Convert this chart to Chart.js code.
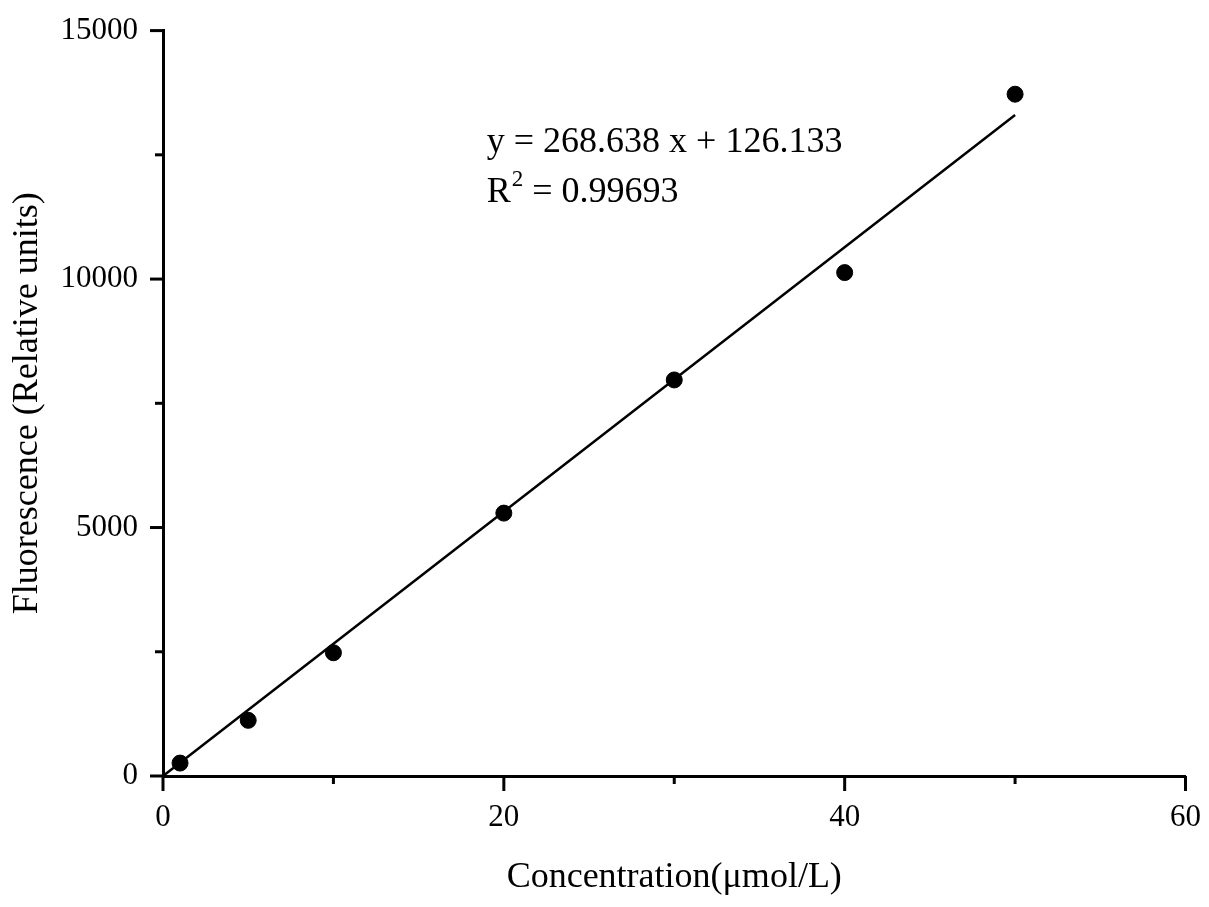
<!DOCTYPE html>
<html>
<head>
<meta charset="utf-8">
<script src="https://cdn.jsdelivr.net/npm/chart.js@4.4.1/dist/chart.umd.min.js"></script>
<style>
  html, body { margin: 0; padding: 0; background: #fff; }
  #wrap { width: 1209px; height: 907px; }
</style>
</head>
<body>
<div id="wrap"><canvas id="myChart" width="1209" height="907"></canvas></div>
<script>
var concentration = [1, 5, 10, 20, 30, 40, 50];
var fluorescence = [260, 1120, 2480, 5290, 7970, 10130, 13720];

// ends of the drawn fit line
var fitX = [0, 50];
var fitY = [0, 13300];

var xMajorTicks = [0, 20, 40, 60];
var xMinorTicks = [10, 30, 50];
var yMajorTicks = [0, 5000, 10000, 15000];
var yMinorTicks = [2500, 7500, 12500];

var equationText = "y = 268.638 x + 126.133";
var r2Label = "R";
var r2Sup = "2";
var r2Value = " = 0.99693";

var serif = "'Liberation Serif', 'Times New Roman', serif";

function toPoints(xs, ys) {
  return xs.map(function (x, i) { return { x: x, y: ys[i] }; });
}

// outward major/minor ticks like the original plot
var tickPlugin = {
  id: "ticks",
  afterDraw: function (chart) {
    var ctx = chart.ctx;
    var xs = chart.scales.x, ys = chart.scales.y;
    var area = chart.chartArea;
    ctx.save();
    ctx.strokeStyle = "#000";
    ctx.lineCap = "butt";
    function xt(v, len, w) {
      var px = xs.getPixelForValue(v);
      ctx.lineWidth = w;
      ctx.beginPath();
      ctx.moveTo(px, area.bottom);
      ctx.lineTo(px, area.bottom + len);
      ctx.stroke();
    }
    function yt(v, len, w) {
      var py = ys.getPixelForValue(v);
      ctx.lineWidth = w;
      ctx.beginPath();
      ctx.moveTo(area.left, py);
      ctx.lineTo(area.left - len, py);
      ctx.stroke();
    }
    xMajorTicks.forEach(function (v) { xt(v, 15, 3); });
    xMinorTicks.forEach(function (v) { xt(v, 8, 3); });
    yMajorTicks.forEach(function (v) { yt(v, 13, 3); });
    yMinorTicks.forEach(function (v) { yt(v, 8, 3); });
    ctx.restore();
  }
};

// regression equation text
var equationPlugin = {
  id: "equation",
  afterDraw: function (chart) {
    var ctx = chart.ctx;
    var xs = chart.scales.x, ys = chart.scales.y;
    var px = xs.getPixelForValue(19);
    ctx.save();
    ctx.fillStyle = "#000";
    ctx.textBaseline = "alphabetic";
    ctx.textAlign = "left";
    ctx.font = "36px " + serif;
    ctx.fillText(equationText, px, ys.getPixelForValue(12560));
    var base2 = ys.getPixelForValue(11560);
    ctx.fillText(r2Label, px, base2);
    var w = ctx.measureText(r2Label).width;
    ctx.font = "23px " + serif;
    ctx.fillText(r2Sup, px + w + 1, base2 - 16);
    var w2 = ctx.measureText(r2Sup).width;
    ctx.font = "36px " + serif;
    ctx.fillText(r2Value, px + w + w2 + 1, base2);
    ctx.restore();
  }
};

var ctx = document.getElementById("myChart");
new Chart(ctx, {
  type: "scatter",
  data: {
    datasets: [
      {
        label: "Fit",
        type: "line",
        data: toPoints(fitX, fitY),
        borderColor: "#000",
        borderWidth: 2.5,
        pointRadius: 0,
        fill: false,
        tension: 0,
        clip: false
      },
      {
        label: "Fluorescence",
        data: toPoints(concentration, fluorescence),
        backgroundColor: "#000",
        borderColor: "#000",
        pointRadius: 8,
        pointHoverRadius: 8,
        clip: false
      }
    ]
  },
  options: {
    responsive: false,
    animation: false,
    devicePixelRatio: 1,
    layout: { padding: { left: 0, top: 27, right: 23, bottom: 0 } },
    plugins: {
      legend: { display: false },
      tooltip: { enabled: false }
    },
    scales: {
      x: {
        type: "linear",
        min: 0,
        max: 60,
        afterFit: function (scale) { scale.height = 131; },
        afterBuildTicks: function (scale) {
          scale.ticks = xMajorTicks.map(function (v) { return { value: v }; });
        },
        ticks: {
          color: "#000",
          font: { family: serif, size: 31 },
          padding: 8,
          callback: function (v) { return String(v); }
        },
        grid: { drawOnChartArea: false, drawTicks: true, tickLength: 15, tickColor: "rgba(0,0,0,0)" },
        border: { display: true, color: "#000", width: 3 },
        title: {
          display: true,
          text: "Concentration(μmol/L)",
          color: "#000",
          font: { family: serif, size: 36 },
          padding: { top: 4, bottom: 8 }
        }
      },
      y: {
        type: "linear",
        min: 0,
        max: 15000,
        afterFit: function (scale) { scale.width = 163; },
        afterBuildTicks: function (scale) {
          scale.ticks = yMajorTicks.map(function (v) { return { value: v }; });
        },
        ticks: {
          color: "#000",
          font: { family: serif, size: 31 },
          padding: 12,
          callback: function (v) { return String(v); }
        },
        grid: { drawOnChartArea: false, drawTicks: true, tickLength: 13, tickColor: "rgba(0,0,0,0)" },
        border: { display: true, color: "#000", width: 3 },
        title: {
          display: true,
          text: "Fluorescence (Relative units)",
          color: "#000",
          font: { family: serif, size: 36 },
          padding: { top: 6, bottom: 4 }
        }
      }
    }
  },
  plugins: [tickPlugin, equationPlugin]
});
</script>
</body>
</html>
